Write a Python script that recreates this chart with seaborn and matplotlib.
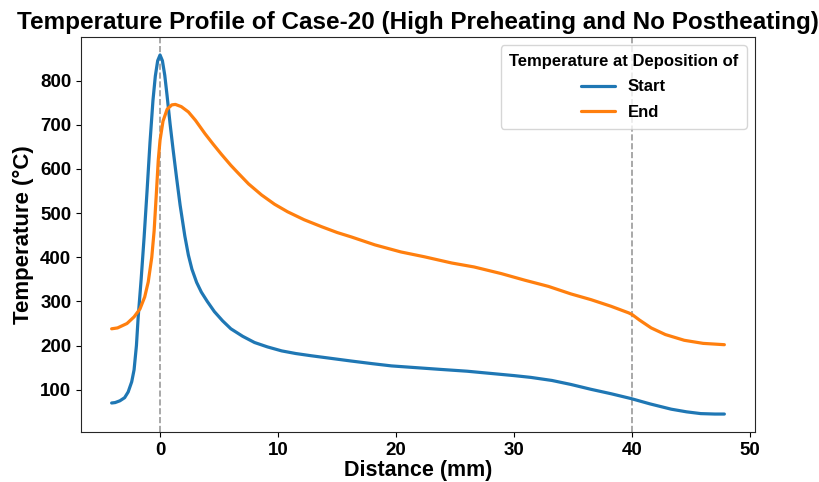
import matplotlib
matplotlib.use("Agg")
import matplotlib.pyplot as plt
import numpy as np
import pandas as pd
import seaborn as sns

# Distance (mm) and temperature (°C)
start_x = [-4.1, -3.8, -3.4, -3.0, -2.7, -2.4, -2.2, -2.0, -1.85, -1.6,
           -1.35, -1.1, -0.85, -0.6, -0.4, -0.2, 0.0, 0.2, 0.4, 0.6,
           0.85, 1.1, 1.4, 1.7, 2.1, 2.4, 2.7, 3.1, 3.5, 4.0,
           4.6, 5.3, 6.0, 7.0, 8.0, 9.1, 10.3, 11.5, 12.8, 14.5,
           16.2, 18.0, 19.6, 21.7, 23.8, 26.0, 28.0, 30.0, 31.4, 33.2,
           34.8, 36.5, 38.2, 39.9, 41.5, 43.3, 44.6, 45.8, 47.0, 47.8]
start_t = [70, 71, 75, 82, 95, 118, 145, 200, 265, 350,
           445, 550, 660, 755, 810, 845, 858, 845, 812, 765,
           702, 645, 580, 518, 448, 405, 373, 343, 321, 300,
           277, 256, 238, 221, 207, 197, 188, 182, 177, 171,
           165, 159, 154, 150, 146, 142, 137, 132, 128, 121,
           112, 101, 91, 80, 68, 56, 50, 46, 45, 45]

end_x = [-4.1, -3.6, -2.8, -2.2, -1.7, -1.3, -1.0, -0.7, -0.5, -0.3,
         -0.15, 0.0, 0.25, 0.6, 1.0, 1.3, 1.8, 2.4, 3.0, 3.8,
         4.5, 5.2, 6.0, 6.6, 7.5, 8.6, 9.7, 10.8, 12.2, 13.7,
         15.0, 16.2, 18.2, 20.4, 22.4, 24.7, 26.6, 28.9, 30.9, 32.9,
         34.8, 36.5, 38.2, 39.7, 40.0, 40.6, 41.6, 42.8, 44.4, 46.0, 47.8]
end_t = [238, 240, 250, 265, 283, 310, 344, 400, 460, 550,
         620, 665, 708, 735, 745, 746, 741, 729, 710, 680,
         656, 633, 608, 591, 566, 541, 520, 503, 485, 469,
         456, 446, 428, 412, 401, 387, 378, 363, 348, 334,
         317, 304, 289, 274, 270, 258, 240, 225, 212, 205, 202]

series_names = ["Start", "End"]
marker_lines = [0, 40]

df = pd.concat([
    pd.DataFrame({"Distance": start_x, "Temperature": start_t, "Deposition": series_names[0]}),
    pd.DataFrame({"Distance": end_x, "Temperature": end_t, "Deposition": series_names[1]}),
])

sns.set_style("ticks")
plt.rcParams["font.family"] = ["Liberation Sans", "DejaVu Sans"]
plt.rcParams["font.weight"] = "bold"
plt.rcParams["text.color"] = "black"
plt.rcParams["axes.labelcolor"] = "black"
plt.rcParams["xtick.color"] = "black"
plt.rcParams["ytick.color"] = "black"

fig, ax = plt.subplots(figsize=(8.19, 4.82), dpi=100)
fig.subplots_adjust(left=81 / 819, right=755 / 819, top=1 - 37 / 482, bottom=1 - 432 / 482)

sns.lineplot(data=df, x="Distance", y="Temperature", hue="Deposition",
             palette=["#1f77b4", "#ff7f0e"], linewidth=2.3, estimator=None,
             sort=False, ax=ax)

for xv in marker_lines:
    ax.axvline(xv, color="gray", linestyle="--", linewidth=1.2, alpha=0.8, zorder=0)

ax.set_title("Temperature Profile of Case-20 (High Preheating and No Postheating)",
             fontsize=17.5, fontweight="bold", pad=6)
ax.set_xlabel("Distance (mm)", fontsize=15.5, fontweight="bold", labelpad=1)
ax.set_ylabel("Temperature (°C)", fontsize=16, fontweight="bold", labelpad=4)
ax.tick_params(labelsize=13.5)
for lbl in ax.get_xticklabels() + ax.get_yticklabels():
    lbl.set_fontweight("bold")

leg = ax.legend(title="Temperature at Deposition of", loc="upper right",
                fontsize=12, title_fontproperties={"weight": "bold", "size": 12},
                labelspacing=0.65, borderpad=0.5)
for t in leg.get_texts():
    t.set_fontweight("bold")

fig.savefig("out.png", dpi=100)
